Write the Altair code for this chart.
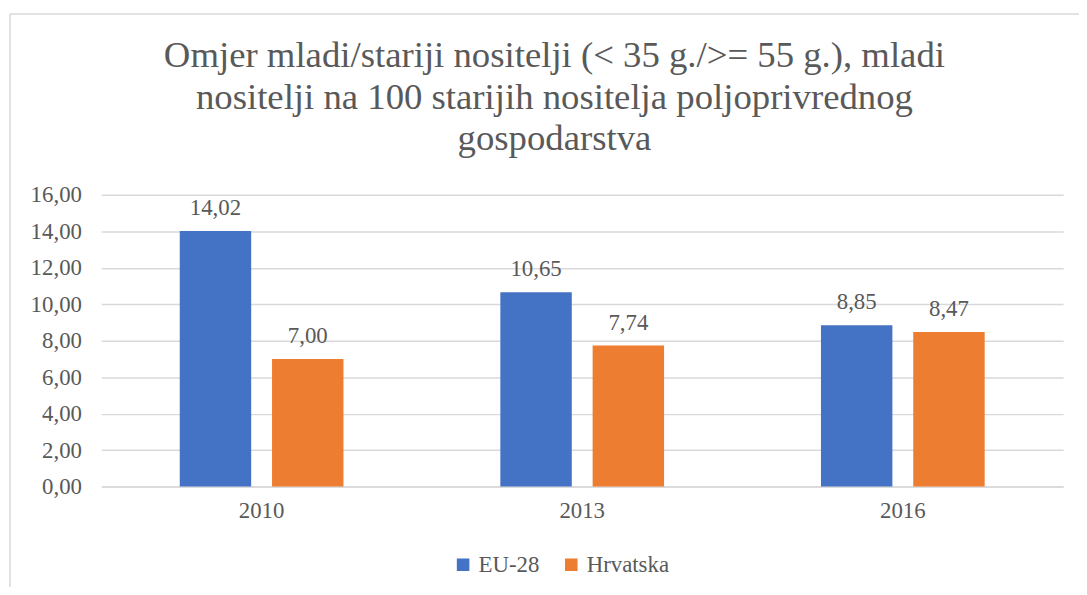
import altair as alt
import pandas as pd

years = ["2010", "2013", "2016"]
series = ["EU-28", "Hrvatska"]
eu28 = [14.02, 10.65, 8.85]
hrvatska = [7.00, 7.74, 8.47]
y_ticks = [0, 2, 4, 6, 8, 10, 12, 14, 16]
title_lines = [
    "Omjer mladi/stariji nositelji (< 35 g./>= 55 g.), mladi",
    "nositelji na 100 starijih nositelja poljoprivrednog",
    "gospodarstva",
]
colors = ["#4472C4", "#ED7D31"]

rows = []
for i, y in enumerate(years):
    rows.append({"year": y, "series": series[0], "value": eu28[i]})
    rows.append({"year": y, "series": series[1], "value": hrvatska[i]})
df = pd.DataFrame(rows)

FONT = "Liberation Serif"
TXT = "#595959"
FS = 23
BORDER = "#D9D9D9"

base = alt.Chart(df).encode(
    x=alt.X("year:N", sort=years,
            scale=alt.Scale(paddingInner=0, paddingOuter=0),
            axis=alt.Axis(title=None, labelAngle=0, ticks=False, labelPadding=13,
                          domainColor="#D9D9D9", domainWidth=1.5, grid=False)),
    xOffset=alt.XOffset("series:N", sort=series,
                        scale=alt.Scale(paddingInner=0.226, paddingOuter=0.85)),
    y=alt.Y("value:Q", scale=alt.Scale(domain=[0, 16], nice=False),
            axis=alt.Axis(title=None, values=y_ticks, domain=False, ticks=False,
                          labelPadding=20, gridColor="#D9D9D9", gridWidth=1.5,
                          labelOverlap=False,
                          labelExpr="replace(format(datum.value, '.2f'), '.', ',')")),
)

bars = base.mark_bar().encode(
    color=alt.Color("series:N", sort=series,
                    scale=alt.Scale(domain=series, range=colors),
                    legend=alt.Legend(title=None, orient="none", direction="horizontal",
                                      legendX=353, legendY=361, symbolType="square",
                                      symbolSize=160, symbolStrokeWidth=0,
                                      columnPadding=20, labelOffset=4)),
)

labels = base.mark_text(baseline="alphabetic", dy=-16, font=FONT, fontSize=FS,
                        color=TXT).transform_calculate(
    lab="replace(format(datum.value, '.2f'), '.', ',')"
).encode(
    text=alt.Text("lab:N"),
)

# chart-area frame (decoration only)
frame_df = pd.DataFrame({"k": [0]})
frame_left = alt.Chart(frame_df).mark_rule(color=BORDER, strokeWidth=1.5).encode(
    x=alt.value(-92), y=alt.value(-182), y2=alt.value(420)
)
frame_top = alt.Chart(frame_df).mark_rule(color=BORDER, strokeWidth=1.5).encode(
    x=alt.value(-92), x2=alt.value(1100), y=alt.value(-182)
)

chart = alt.layer(bars, labels, frame_left, frame_top).properties(
    width=969,
    height=294,
    autosize=alt.AutoSizeParams(type="none"),
    padding={"left": 94, "top": 186, "right": 16, "bottom": 99},
    title=alt.TitleParams(text=title_lines, font=FONT, fontSize=37, lineHeight=42,
                          fontWeight="normal", color=TXT, anchor="middle",
                          dx=-28, offset=-146),
).configure_axis(
    labelFont=FONT, labelFontSize=FS, labelColor=TXT,
).configure_legend(
    labelFont=FONT, labelFontSize=FS, labelColor=TXT,
).configure_view(stroke=None)

chart.save("out.html", embed_options={"renderer": "svg", "actions": False})
